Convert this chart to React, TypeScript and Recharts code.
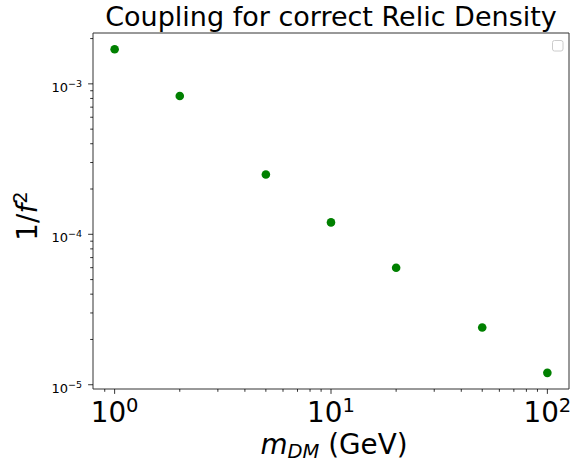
import React from 'react';
import { ScatterChart, Scatter, XAxis, YAxis, ReferenceArea } from 'recharts';

const masses = [1, 2, 5, 10, 20, 50, 100];
const couplings = [1.7e-3, 8.3e-4, 2.5e-4, 1.2e-4, 6.0e-5, 2.4e-5, 1.2e-5];

const xMajorTicks = [1, 10, 100];
const xMajorExp = ['0', '1', '2'];
const xMinorTicks = [0.9, 2, 3, 4, 5, 6, 7, 8, 9, 20, 30, 40, 50, 60, 70, 80, 90];
const yMajorTicks = [1e-5, 1e-4, 1e-3];
const yMajorExp = ['\u22125', '\u22124', '\u22123'];
const yMinorTicks = [2e-5, 3e-5, 4e-5, 5e-5, 6e-5, 7e-5, 8e-5, 9e-5, 2e-4, 3e-4, 4e-4, 5e-4, 6e-4, 7e-4, 8e-4, 9e-4, 2e-3];

const xDomain: [number, number] = [0.7943, 125.89];
const yDomain: [number, number] = [9.37e-6, 2.178e-3];

const data = masses.map((m, i) => ({ m, c: couplings[i] }));
const FONT = 'DejaVu Sans, sans-serif';

const majorIndex = (arr: number[], v: number) => arr.findIndex((t) => Math.abs(t - v) / t < 1e-6);

const XTick = (props: any) => {
  const { x, y, payload } = props;
  const idx = majorIndex(xMajorTicks, payload.value);
  const major = idx >= 0;
  return (
    <g>
      <line x1={x} x2={x} y1={y} y2={y + (major ? 4.9 : 2.8)} stroke="#000" strokeWidth={0.8} />
      {major && (
        <text x={x} y={y + 33} textAnchor="middle" fontSize={27.8} fontFamily={FONT} fill="#000">
          10<tspan dy={-10} fontSize={19.5}>{xMajorExp[idx]}</tspan>
        </text>
      )}
    </g>
  );
};

const YTick = (props: any) => {
  const { x, y, payload } = props;
  const idx = majorIndex(yMajorTicks, payload.value);
  const major = idx >= 0;
  return (
    <g>
      <line x1={x} x2={x - (major ? 4.9 : 2.8)} y1={y} y2={y} stroke="#000" strokeWidth={0.8} />
      {major && (
        <text x={x - 11} y={y + 8} textAnchor="end" fontSize={13} fontFamily={FONT} fill="#000">
          10<tspan dy={-5} fontSize={9.5}>{yMajorExp[idx]}</tspan>
        </text>
      )}
    </g>
  );
};

const Dot = (props: any) => <circle cx={props.cx} cy={props.cy} r={4.3} fill="#008000" />;

export default function App() {
  return (
    <div style={{ position: 'absolute', left: 0, top: 0, width: 571, height: 467, background: '#fff' }}>
      <ScatterChart width={571} height={467} margin={{ top: 33, right: 2, bottom: 0, left: 0 }}>
        <XAxis
          type="number"
          dataKey="m"
          scale="log"
          domain={xDomain}
          allowDataOverflow
          ticks={[...xMajorTicks, ...xMinorTicks]}
          interval={0}
          tick={<XTick />}
          tickLine={false}
          axisLine={false}
          tickSize={0}
          tickMargin={0}
          height={78}
        />
        <YAxis
          type="number"
          dataKey="c"
          scale="log"
          domain={yDomain}
          allowDataOverflow
          ticks={[...yMajorTicks, ...yMinorTicks]}
          interval={0}
          tick={<YTick />}
          tickLine={false}
          axisLine={false}
          tickSize={0}
          tickMargin={0}
          width={93}
        />
        <ReferenceArea
          x1={xDomain[0]}
          x2={xDomain[1]}
          y1={yDomain[0]}
          y2={yDomain[1]}
          fill="none"
          stroke="#333"
          strokeWidth={1}
          ifOverflow="visible"
        />
        <Scatter data={data} shape={<Dot />} isAnimationActive={false} />
      </ScatterChart>
      <svg width={571} height={467} style={{ position: 'absolute', left: 0, top: 0, pointerEvents: 'none' }}>
        <text x={331} y={26} textAnchor="middle" fontSize={27} fontFamily={FONT} fill="#000">
          Coupling for correct Relic Density
        </text>
        <text x={334} y={454} textAnchor="middle" fontSize={27.8} fontFamily={FONT} fill="#000">
          <tspan fontStyle="italic">m</tspan>
          <tspan fontStyle="italic" fontSize={19.5} dy={4}>DM</tspan>
          <tspan dy={-4}> (GeV)</tspan>
        </text>
        <text
          x={37}
          y={216}
          textAnchor="middle"
          fontSize={27.8}
          fontFamily={FONT}
          fill="#000"
          transform="rotate(-90 37 216)"
        >
          1/<tspan fontStyle="italic">f</tspan>
          <tspan dy={-10} fontSize={19.5}>2</tspan>
        </text>
        <rect x={552.5} y={40.5} width={10.5} height={10.5} rx={2} fill="#fff" stroke="#ccc" strokeWidth={1} />
      </svg>
    </div>
  );
}
